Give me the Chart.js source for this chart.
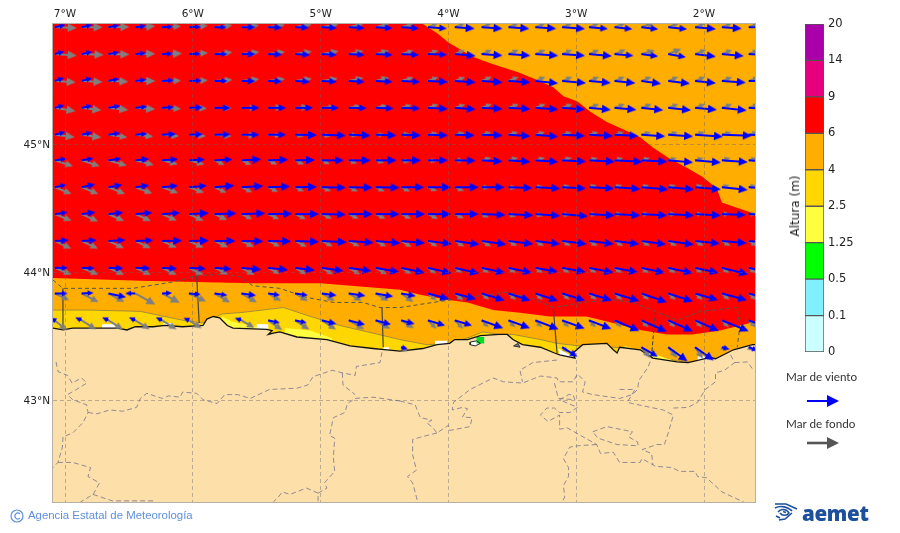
<!DOCTYPE html>
<html lang="es">
<head>
<meta charset="utf-8">
<title>Altura de oleaje</title>
<script src="https://cdn.jsdelivr.net/npm/chart.js@4"></script>
<style>
  html, body { margin: 0; background: #fff; }
  #pagina { position: relative; width: 900px; height: 533px; overflow: hidden; font-family: "DejaVu Sans", sans-serif; }
  canvas { position: absolute; display: block; }
  #mapa { left: 0; top: 0; }
  #barra { left: 800px; top: 0; }
  .txt { position: absolute; white-space: nowrap; }
  #altura { left: 795px; top: 206px; transform: translate(-50%, -50%) rotate(-90deg); font-size: 12px; color: #222; }
  .ley { left: 786px; font-family: Lato, sans-serif; font-size: 11.7px; color: #333; }
  #agencia { left: 28px; top: 509px; font-family: "Liberation Sans", sans-serif; font-size: 11.4px; color: #5f8fdc; }
  #marca { left: 802px; top: 499px; font-family: "Open Sans", sans-serif; font-weight: 800; font-size: 20.5px; letter-spacing: -0.3px; color: #1c4f9c; }
  svg { position: absolute; left: 0; top: 0; }
</style>
</head>
<body>
<div id="pagina">
  <canvas id="mapa" width="900" height="533"></canvas>
  <canvas id="barra" width="100" height="533"></canvas>
  <div class="txt" id="altura">Altura (m)</div>
  <div class="txt ley" style="top:369px">Mar de viento</div>
  <div class="txt ley" style="top:416px">Mar de fondo</div>
  <div class="txt" id="agencia">Agencia Estatal de Meteorología</div>
  <div class="txt" id="marca">aemet</div>
  <svg width="900" height="533" fill="none">
    <path d="M807 401H830" stroke="#0000ff" stroke-width="2"/>
    <path d="M827 395L839 401L827 407Z" fill="#0000ff"/>
    <path d="M807 443H830" stroke="#555" stroke-width="2.6"/>
    <path d="M827 437L839 443L827 449Z" fill="#555"/>
    <circle cx="17" cy="516" r="6" stroke="#5f8fdc" stroke-width="1.2"/>
    <path d="M20 513.8A3 3 0 1 0 20 518.2" stroke="#5f8fdc" stroke-width="1.1"/>
    <g stroke="#1c4f9c" stroke-width="1.6">
      <path d="M775 504L786 504L797 509"/>
      <path d="M775 508C781 505 788 507 792 511"/>
      <path d="M778 512C781 508 787 509 789 513C787 516 782 516 780 513"/>
      <path d="M783 511.5L786 512.5"/>
      <path d="M792 513L785 519L779 520"/>
      <path d="M776 516L780 518"/>
    </g>
  </svg>
</div>

<script>
// ejes del mapa
const lonMin = -7.094, lonMax = -1.601, latMin = 42.211, latMax = 45.945;
const ticksLon = [-7, -6, -5, -4, -3, -2];
const ticksLat = [43, 44, 45];

// barra de color
const etiquetasBarra = ['0', '0.1', '0.5', '1.25', '2.5', '4', '6', '9', '14', '20'];
const coloresBarra = ['#ccffff', '#80f0ff', '#00ff00', '#ffff40', '#ffd700', '#ffae00', '#ff0000', '#e6007e', '#aa00aa'];

// zonas de altura, en [lon, lat]
const zonaMar = [[-7.094, 45.945], [-1.601, 45.945], [-1.601, 43.0], [-7.094, 43.0]];
const zonaRoja = [[-7.094, 45.945], [-4.20, 45.945], [-4.09, 45.875], [-4.00, 45.80], [-3.93, 45.76], [-3.81, 45.69],
  [-3.65, 45.63], [-3.46, 45.57], [-3.31, 45.51], [-3.18, 45.45], [-3.10, 45.38], [-2.99, 45.34], [-2.89, 45.26],
  [-2.76, 45.18], [-2.63, 45.12], [-2.50, 45.06], [-2.40, 44.98], [-2.28, 44.90], [-2.13, 44.82], [-2.01, 44.75],
  [-1.90, 44.66], [-1.86, 44.55], [-1.77, 44.52], [-1.601, 44.46], [-1.601, 43.62], [-1.875, 43.55], [-2.09, 43.52],
  [-2.29, 43.52], [-2.50, 43.555], [-2.71, 43.61], [-2.92, 43.66], [-3.205, 43.66], [-3.44, 43.69], [-3.65, 43.71],
  [-3.85, 43.77], [-4.01, 43.79], [-4.22, 43.83], [-4.38, 43.87], [-5.00, 43.92], [-5.53, 43.92], [-6.41, 43.94],
  [-7.094, 43.96]];
const zonaOro = [[-7.094, 43.71], [-6.80, 43.71], [-6.41, 43.70], [-6.05, 43.625], [-5.92, 43.61], [-5.77, 43.68],
  [-5.63, 43.69], [-5.29, 43.73], [-5.11, 43.67], [-4.85, 43.59], [-4.59, 43.53], [-4.38, 43.48], [-4.17, 43.44],
  [-3.99, 43.45], [-3.83, 43.50], [-3.73, 43.54], [-3.60, 43.52], [-3.495, 43.52], [-3.28, 43.48], [-3.15, 43.45],
  [-2.97, 43.43], [-2.71, 43.42], [-2.50, 43.40], [-2.34, 43.34], [-2.16, 43.305], [-2.03, 43.30], [-2.03, 43.0],
  [-7.094, 43.0]];
const zonaAmarilla1 = [[-5.77, 43.66], [-5.69, 43.62], [-5.55, 43.59], [-5.41, 43.56], [-5.41, 43.5], [-5.77, 43.5]];
const zonaAmarilla2 = [[-5.28, 43.57], [-5.08, 43.55], [-4.91, 43.49], [-4.91, 43.4], [-5.28, 43.4]];
const zonaAmarilla3 = [[-3.815, 43.49], [-3.71, 43.52], [-3.60, 43.51], [-3.60, 43.4], [-3.815, 43.4]];
const zonaAmarilla4 = [[-2.62, 43.43], [-2.42, 43.375], [-2.25, 43.32], [-2.25, 43.25], [-2.62, 43.25]];
const zonasBlancas = [
  [[-6.71, 43.60], [-6.61, 43.60], [-6.61, 43.56], [-6.71, 43.56]],
  [[-6.23, 43.61], [-6.155, 43.61], [-6.155, 43.58], [-6.23, 43.58]],
  [[-5.50, 43.60], [-5.41, 43.60], [-5.41, 43.56], [-5.50, 43.56]],
  [[-4.51, 43.42], [-4.465, 43.42], [-4.465, 43.39], [-4.51, 43.39]],
  [[-4.105, 43.47], [-4.01, 43.47], [-4.01, 43.44], [-4.105, 43.44]],
  [[-3.14, 43.41], [-3.01, 43.335], [-3.13, 43.36]],
  [[-2.05, 43.35], [-1.99, 43.35], [-1.99, 43.31], [-2.05, 43.31]]
];
const zonaVerde = [[-3.78, 43.50], [-3.72, 43.50], [-3.72, 43.45], [-3.78, 43.45]];
const riaOeste = [[-3.83, 43.46], [-3.83, 43.44], [-3.79, 43.43], [-3.75, 43.45], [-3.78, 43.47], [-3.83, 43.46]];
const riaEste = [[-3.455, 43.45], [-3.49, 43.43], [-3.44, 43.42], [-3.455, 43.45]];

// costa y tierra
const costa = [[-7.094, 43.57], [-7.016, 43.555], [-6.94, 43.57], [-6.71, 43.57], [-6.59, 43.57], [-6.515, 43.555],
  [-6.45, 43.58], [-6.31, 43.58], [-6.22, 43.59], [-6.08, 43.58], [-5.92, 43.59], [-5.89, 43.64], [-5.84, 43.66],
  [-5.79, 43.65], [-5.73, 43.59], [-5.685, 43.57], [-5.42, 43.56], [-5.38, 43.55], [-5.41, 43.52], [-5.37, 43.53],
  [-5.32, 43.54], [-5.185, 43.50], [-4.95, 43.48], [-4.77, 43.43], [-4.59, 43.41], [-4.48, 43.40], [-4.38, 43.39],
  [-4.20, 43.41], [-4.09, 43.44], [-3.99, 43.45], [-3.95, 43.48], [-3.85, 43.48], [-3.75, 43.51], [-3.60, 43.52],
  [-3.54, 43.52], [-3.495, 43.48], [-3.42, 43.44], [-3.28, 43.42], [-3.17, 43.375], [-3.13, 43.36], [-3.01, 43.335],
  [-3.025, 43.375], [-2.95, 43.44], [-2.76, 43.45], [-2.71, 43.40], [-2.68, 43.375], [-2.66, 43.42], [-2.50, 43.40],
  [-2.40, 43.335], [-2.21, 43.305], [-2.125, 43.30], [-1.95, 43.34], [-1.91, 43.33], [-1.77, 43.40], [-1.62, 43.44],
  [-1.601, 43.44]];
const esquinasTierra = [[-1.601, 42.211], [-7.094, 42.211]];

// limites maritimos
const limiteMar = [[-7.094, 43.945], [-7.016, 43.88], [-6.47, 43.88], [-6.155, 43.93], [-5.97, 43.98], [-5.73, 43.99],
  [-5.63, 43.97], [-5.53, 43.90], [-5.32, 43.88], [-5.11, 43.81], [-4.90, 43.77], [-4.67, 43.77], [-4.535, 43.73],
  [-4.38, 43.73], [-4.12, 43.77], [-3.85, 43.81], [-3.54, 43.85], [-3.34, 43.80], [-3.18, 43.73], [-2.95, 43.77],
  [-2.71, 43.79], [-2.56, 43.77], [-2.38, 43.70], [-2.21, 43.63], [-2.03, 43.70], [-1.74, 43.73], [-1.72, 43.58],
  [-1.74, 43.42]];
const separadoresMar = [
  [[-7.016, 43.88], [-7.016, 43.57]],
  [[-5.97, 43.98], [-5.95, 43.61]],
  [[-4.52, 43.73], [-4.51, 43.42]],
  [[-3.18, 43.73], [-3.15, 43.375]]
];
const separadorDiscontinuo = [[-2.38, 43.70], [-2.41, 43.36]];

// limites de provincias
const limitesTierra = [
  [[-7.07, 43.305], [-7.055, 43.23], [-6.98, 43.20], [-6.945, 43.14], [-6.87, 43.18], [-6.83, 43.14], [-6.91, 43.09],
    [-6.98, 43.05], [-6.94, 43.01], [-6.83, 42.97], [-6.82, 42.91], [-6.86, 42.83], [-6.94, 42.75], [-7.016, 42.72],
    [-7.02, 42.64], [-7.055, 42.52], [-7.094, 42.48]],
  [[-7.055, 42.52], [-6.94, 42.52], [-6.80, 42.48], [-6.82, 42.41], [-6.73, 42.36], [-6.78, 42.27], [-6.88, 42.211]],
  [[-6.78, 42.27], [-6.63, 42.22], [-6.31, 42.22]],
  [[-6.82, 42.91], [-6.75, 42.90], [-6.65, 42.93], [-6.55, 42.92], [-6.44, 42.95], [-6.41, 43.02], [-6.36, 43.06],
    [-6.24, 43.02], [-6.19, 43.04], [-6.10, 43.03], [-6.08, 43.07], [-5.97, 43.06], [-5.92, 43.01], [-5.81, 42.98],
    [-5.75, 43.05], [-5.65, 43.05], [-5.55, 43.02], [-5.40, 43.09], [-5.185, 43.10], [-5.10, 43.125], [-5.06, 43.19],
    [-4.91, 43.24], [-4.83, 43.22], [-4.73, 43.20], [-4.72, 43.27], [-4.535, 43.30], [-4.52, 43.38]],
  [[-4.83, 43.22], [-4.825, 43.125], [-4.73, 43.05]],
  [[-4.38, 43.0], [-4.59, 43.03], [-4.73, 43.02], [-4.79, 42.98], [-4.81, 42.91], [-4.90, 42.87], [-4.93, 42.73],
    [-4.89, 42.71], [-4.90, 42.56], [-4.89, 42.45], [-4.97, 42.36], [-4.95, 42.32], [-5.02, 42.28], [-5.02, 42.211]],
  [[-5.02, 42.28], [-5.11, 42.32], [-5.24, 42.27], [-5.30, 42.29], [-5.33, 42.25], [-5.37, 42.211]],
  [[-4.38, 43.0], [-4.26, 42.97], [-4.22, 42.87], [-4.13, 42.85], [-4.17, 42.83], [-4.12, 42.79], [-4.09, 42.75],
    [-4.00, 42.81], [-3.99, 42.77], [-3.83, 42.80], [-3.815, 42.87], [-3.89, 42.875], [-3.85, 42.94], [-3.89, 42.95],
    [-3.97, 42.93], [-3.96, 42.99], [-3.83, 43.09], [-3.65, 43.18], [-3.57, 43.15], [-3.42, 43.14], [-3.28, 43.195],
    [-3.15, 43.18], [-3.14, 43.15], [-3.025, 43.15], [-2.99, 43.21], [-2.93, 43.15], [-2.95, 43.07], [-2.87, 43.05],
    [-2.66, 43.02], [-2.56, 43.05], [-2.52, 43.09], [-2.51, 43.16], [-2.44, 43.26], [-2.41, 43.335]],
  [[-4.09, 42.75], [-4.21, 42.72], [-4.28, 42.70], [-4.28, 42.58], [-4.25, 42.46], [-4.32, 42.41], [-4.28, 42.36],
    [-4.24, 42.211]],
  [[-3.15, 43.32], [-3.34, 43.30], [-3.44, 43.24], [-3.42, 43.15]],
  [[-3.17, 43.14], [-3.14, 43.02], [-3.01, 43.01], [-3.025, 43.05], [-3.06, 43.05], [-3.13, 43.01], [-2.99, 42.95],
    [-3.05, 42.91], [-3.13, 42.91], [-3.17, 42.945], [-3.23, 42.945], [-3.28, 42.89], [-3.22, 42.84], [-3.13, 42.89],
    [-3.13, 42.78], [-3.07, 42.79], [-2.84, 42.66], [-2.81, 42.59], [-2.71, 42.60], [-2.66, 42.52], [-2.50, 42.52],
    [-2.485, 42.55], [-2.38, 42.49], [-2.25, 42.48], [-2.19, 42.45], [-2.07, 42.45], [-2.05, 42.41], [-1.98, 42.40],
    [-1.86, 42.29], [-1.69, 42.211]],
  [[-2.84, 42.66], [-2.99, 42.65], [-3.05, 42.64], [-3.10, 42.55], [-3.06, 42.48], [-3.06, 42.41], [-3.10, 42.34],
    [-3.09, 42.25], [-3.11, 42.211]],
  [[-2.87, 42.76], [-2.76, 42.80], [-2.56, 42.76], [-2.59, 42.72], [-2.52, 42.68], [-2.515, 42.65], [-2.68, 42.66],
    [-2.83, 42.71], [-2.87, 42.76]],
  [[-2.66, 43.09], [-2.54, 43.09], [-2.60, 42.99], [-2.56, 42.98], [-2.32, 42.93], [-2.24, 42.89], [-2.28, 42.75],
    [-2.31, 42.66], [-2.37, 42.66], [-2.485, 42.62], [-2.41, 42.59], [-2.40, 42.50]],
  [[-2.24, 42.945], [-2.125, 42.95], [-2.05, 42.99], [-1.99, 43.09], [-1.91, 43.15], [-1.91, 43.22], [-1.84, 43.24],
    [-1.76, 43.30], [-1.80, 43.375]],
  [[-1.76, 43.30], [-1.66, 43.305], [-1.62, 43.25], [-1.601, 43.25]]
];

// rejilla de flechas
const lonRejilla = [-7.08, -6.87, -6.66, -6.45, -6.24, -6.03, -5.83, -5.62, -5.41, -5.20, -4.99, -4.78, -4.57, -4.37,
  -4.16, -3.95, -3.74, -3.53, -3.32, -3.11, -2.90, -2.70, -2.49, -2.28, -2.07, -1.86, -1.65];
const latRejilla = [45.92, 45.71, 45.50, 45.29, 45.08, 44.88, 44.67, 44.46, 44.25, 44.04, 43.84, 43.63, 43.42];

// mar de viento: modulo y angulo (grados, horario desde el este)
const vientoMod = [
  [11,11,11,11,11,12,12,14,14,14,15,16,17,18,19,20,21,21,21,23,19,18,17,19,21,20,20],
  [10,11,11,11,11,12,13,14,14,15,15,16,17,18,19,21,21,22,23,23,23,19,17,18,21,22,21],
  [10,11,11,11,12,13,13,14,14,15,15,16,17,19,20,21,21,22,23,24,22,21,20,22,21,24,20],
  [10,11,12,12,12,14,16,18,18,18,17,18,18,19,20,21,21,22,23,23,22,22,22,23,22,25,20],
  [11,11,12,12,14,14,16,18,18,22,24,22,21,20,20,20,21,22,23,23,24,24,24,25,28,30,20],
  [12,12,13,14,16,16,18,20,20,20,22,22,21,20,20,21,21,22,23,24,26,28,26,25,26,26,20],
  [12,14,14,14,16,18,20,22,22,22,24,24,24,23,23,24,23,24,25,24,25,26,27,26,26,26,20],
  [13,14,15,17,18,20,22,24,24,24,24,24,24,24,23,24,24,25,25,26,26,26,26,26,26,24,20],
  [14,15,17,18,20,20,21,22,23,24,25,25,25,24,24,25,25,25,25,25,25,25,25,26,25,25,20],
  [13,13,15,15,15,17,17,20,20,20,22,23,24,24,24,25,24,24,23,24,25,24,24,25,24,27,20],
  [13,12,18,10,10,12,13,15,12,13,15,17,18,15,22,22,24,23,24,24,24,26,27,26,24,26,20],
  [5,7,7,7,7,6,null,7,12,12,15,17,16,14,18,18,23,23,25,24,24,27,28,27,26,29,15],
  [null,null,null,null,null,null,null,null,null,null,null,null,null,7,null,null,null,null,null,18,null,null,19,24,23,8,10]
];
const vientoAng = [
  [-12,-12,-10,-6,-3,-2,0,0,2,2,3,3,4,4,4,4,4,4,4,4,5,6,7,6,5,4,0],
  [-15,-12,-10,-5,-3,-2,0,0,2,3,3,3,3,3,2,5,4,4,4,4,5,5,8,10,7,5,3],
  [-18,-15,-12,-6,-3,-2,0,1,2,3,3,3,3,3,3,4,4,4,6,5,5,6,8,7,6,4,0],
  [-15,-12,-10,-6,-3,-2,0,0,0,0,0,1,2,2,3,4,3,3,4,4,5,5,6,6,5,6,3],
  [-15,-12,-8,-5,-3,-2,-1,0,0,1,2,2,2,2,2,2,2,4,5,3,3,3,4,4,4,2,2],
  [-8,-10,-8,-6,-4,-3,-3,-3,-2,-1,0,0,0,0,0,1,3,4,4,3,3,3,3,5,5,4,4],
  [-12,-12,-10,-8,-6,-5,-5,-3,-2,-1,1,1,1,0,0,0,0,2,3,3,3,4,5,5,5,6,4],
  [-8,-8,-6,-5,-4,-3,-2,-2,-1,0,1,0,0,0,0,0,2,3,4,5,3,3,3,3,3,2,2],
  [-3,-3,-3,-2,-1,-1,0,1,1,2,3,4,5,5,7,8,8,7,7,7,7,7,8,8,6,5,5],
  [0,2,2,2,3,3,4,5,6,7,8,8,10,12,13,13,12,12,10,10,11,11,12,12,12,14,12],
  [0,-3,12,180,-3,5,8,8,8,8,8,8,10,10,15,15,17,18,18,17,17,17,19,18,16,15,15],
  [-150,-155,-155,-155,-155,-155,null,-160,12,12,14,15,15,15,17,17,20,20,21,20,21,23,24,24,24,22,20],
  [null,null,null,null,null,null,null,null,null,null,null,null,null,15,null,null,null,null,null,32,null,null,30,36,35,15,20]
];

// mar de fondo: modulo y angulo
const fondoMod = [
  [22,21,21,20,19,19,18,18,17,17,17,15,14,13,11,11,11,11,11,11,11,12,14,12,11,11,11],
  [22,22,21,20,20,19,18,18,17,17,17,15,14,13,11,11,11,11,11,11,11,12,14,14,12,11,11],
  [21,21,20,20,19,19,18,18,17,17,16,15,14,13,11,11,11,11,11,11,11,11,11,11,11,11,11],
  [21,20,20,20,19,18,17,16,15,14,13,12,12,11,11,11,11,11,11,11,11,11,11,11,11,11,11],
  [20,20,19,18,17,17,17,15,13,9,9,9,9,9,10,10,10,10,10,10,10,10,10,10,10,10,10],
  [19,19,19,19,16,16,11,11,10,10,9,9,9,9,9,9,10,10,10,10,9,9,9,9,9,9,9],
  [18,18,18,18,17,16,13,12,11,10,10,10,10,10,10,10,8,8,8,8,8,8,8,8,8,8,8],
  [18,18,17,17,16,16,14,12,12,12,11,11,11,11,11,10,8,8,8,8,8,8,8,8,8,8,8],
  [18,18,17,17,16,16,15,14,13,13,12,12,12,12,11,11,11,10,10,10,10,10,10,10,10,10,10],
  [18,18,17,17,16,16,15,15,13,13,13,13,13,12,10,9,9,9,9,9,9,9,9,9,9,9,9],
  [16,19,18,23,20,19,18,18,15,15,15,15,15,15,11,11,10,10,10,10,10,10,10,10,10,10,10],
  [16,17,17,17,17,15,null,15,17,17,17,18,17,15,12,12,10,10,10,10,10,10,10,10,10,10,10],
  [null,null,null,null,null,null,null,null,null,null,null,null,null,8,null,null,null,null,null,8,null,null,14,14,14,6,6]
];
const fondoAng = [
  [2,0,-1,-3,-3,-5,-6,-6,-8,-10,-10,-12,-14,-16,-22,-22,-22,-22,-22,-22,-22,-22,-20,-22,-22,-22,-22],
  [4,2,1,-1,-2,-4,-6,-7,-8,-9,-10,-12,-14,-16,-20,-22,-22,-22,-22,-22,-22,-22,-15,-22,-22,-22,-22],
  [4,3,2,0,-1,-2,-4,-6,-7,-8,-9,-12,-14,-16,-20,-20,-22,-22,-22,-22,-22,-22,-22,-22,-22,-20,-20],
  [9,7,6,4,3,2,1,0,-2,-4,-6,-10,-12,-15,-18,-18,-20,-20,-20,-20,-20,-20,-20,-20,-20,-20,-20],
  [7,8,8,6,5,5,5,5,5,10,10,5,0,-5,-10,-12,-15,-15,-15,-15,-15,-15,-15,-15,-15,-15,-15],
  [18,18,16,14,14,15,25,25,25,25,25,20,15,10,5,0,-15,-15,-15,-15,-15,-15,-15,-15,-15,-15,-15],
  [22,22,22,20,20,20,25,25,25,25,25,25,25,25,22,22,5,5,-5,-10,-15,-15,-15,-15,-15,-15,-15],
  [22,24,24,24,24,25,25,25,25,25,25,25,25,25,25,25,25,20,15,10,5,0,0,0,0,0,0],
  [25,25,25,25,25,25,25,25,25,27,27,27,27,30,30,30,30,30,30,30,30,30,30,30,30,30,30],
  [22,22,24,24,26,26,26,28,28,30,30,30,30,30,35,35,35,35,35,35,35,35,35,35,35,35,35],
  [25,27,28,29,28,25,30,30,30,30,30,30,30,35,40,40,40,40,40,40,40,40,40,40,40,40,40],
  [40,32,32,32,32,32,null,30,35,33,33,30,30,32,45,45,45,45,45,45,45,45,45,45,45,45,45],
  [null,null,null,null,null,null,null,null,null,null,null,null,null,35,null,null,null,null,null,40,null,null,50,50,55,40,40]
];

Chart.defaults.font.family = '"DejaVu Sans", sans-serif';
Chart.defaults.animation = false;

const pares = pts => pts.map(p => ({ x: p[0], y: p[1] }));

function poligono(pts, color, order, borde) {
  return {
    data: pares(pts), showLine: true, fill: 'shape', backgroundColor: color,
    borderColor: borde || color, borderWidth: borde ? 1 : 0, pointRadius: 0, tension: 0, order
  };
}

function linea(pts, color, order, ancho, dash) {
  return {
    data: pares(pts), showLine: true, fill: false, borderColor: color,
    borderWidth: ancho, borderDash: dash || [], pointRadius: 0, tension: 0, order
  };
}

// las flechas son puntos con un canvas como pointStyle, centrado en la cola
const cacheFlechas = {};
function flecha(mod, color) {
  const clave = color + mod;
  if (cacheFlechas[clave]) return cacheFlechas[clave];
  const c = document.createElement('canvas');
  c.width = 2 * (mod + 4);
  c.height = 16;
  const g = c.getContext('2d');
  const cabeza = mod < 14 ? 6 : mod < 20 ? 7.5 : 9;
  const media = mod < 14 ? 2.8 : mod < 20 ? 3.5 : 4.2;
  g.translate(c.width / 2, c.height / 2);
  g.strokeStyle = color;
  g.fillStyle = color;
  g.lineWidth = 2;
  g.beginPath();
  g.moveTo(0, 0);
  g.lineTo(mod - cabeza + 1, 0);
  g.stroke();
  g.beginPath();
  g.moveTo(mod, 0);
  g.lineTo(mod - cabeza, -media);
  g.lineTo(mod - cabeza, media);
  g.closePath();
  g.fill();
  cacheFlechas[clave] = c;
  return c;
}

function puntosFlecha(mods, angs) {
  const salida = [];
  mods.forEach((fila, f) => fila.forEach((m, c) => {
    if (m !== null) salida.push({ x: lonRejilla[c], y: latRejilla[f], mod: m, ang: angs[f][c] });
  }));
  return salida;
}

function capaFlechas(mods, angs, color, order) {
  return {
    data: puntosFlecha(mods, angs), showLine: false, pointRadius: 3, order,
    pointStyle: c => flecha(c.raw.mod, color),
    pointRotation: c => c.raw.ang
  };
}

const colorLimite = 'rgba(112,110,140,0.75)';
const datasets = [
  capaFlechas(vientoMod, vientoAng, '#0000ff', 1),
  capaFlechas(fondoMod, fondoAng, '#7f7f7f', 2),
  linea(limiteMar, '#555', 3, 1, [4, 3]),
  linea(separadorDiscontinuo, '#444', 3, 1.1, [4, 2]),
  ...separadoresMar.map(s => linea(s, '#444', 3, 1.2)),
  ...limitesTierra.map(l => linea(l, colorLimite, 4, 1, [5, 3])),
  linea(costa, '#111', 5, 1.3),
  linea(riaOeste, '#222', 6, 1),
  linea(riaEste, '#333', 6, 1),
  poligono(zonaVerde, '#00e020', 7),
  poligono(riaOeste, '#ffffff', 8),
  poligono(riaEste, '#777777', 8),
  poligono([...costa, ...esquinasTierra], '#fddfa9', 10),
  ...zonasBlancas.map(z => poligono(z, '#ffffff', 11)),
  poligono(zonaAmarilla1, '#ffff40', 12),
  poligono(zonaAmarilla2, '#ffff40', 12),
  poligono(zonaAmarilla3, '#ffff40', 12),
  poligono(zonaAmarilla4, '#ffff40', 12),
  poligono(zonaOro, '#ffd700', 13, 'rgba(130,120,80,0.7)'),
  poligono(zonaRoja, '#ff0000', 14),
  poligono(zonaMar, '#ffae00', 15)
];

const marco = {
  id: 'marco',
  afterDraw(chart) {
    const a = chart.chartArea, g = chart.ctx;
    g.save();
    g.strokeStyle = '#b5b0a8';
    g.lineWidth = 1;
    g.strokeRect(a.left - 0.5, a.top - 0.5, a.width + 1, a.height + 1);
    g.restore();
  }
};

const gridMapa = { z: 1, color: 'rgba(100,100,110,0.42)', drawTicks: false, lineWidth: 1 };

new Chart(document.getElementById('mapa'), {
  type: 'scatter',
  data: { datasets },
  plugins: [marco],
  options: {
    responsive: false,
    devicePixelRatio: 1,
    layout: { padding: { left: 0, top: 0, right: 145, bottom: 31 } },
    plugins: { legend: { display: false }, tooltip: { enabled: false } },
    events: [],
    scales: {
      x: {
        type: 'linear', position: 'top', min: lonMin, max: lonMax,
        afterBuildTicks: s => { s.ticks = ticksLon.map(v => ({ value: v })); },
        afterFit: s => { s.height = 24; },
        grid: gridMapa,
        border: { display: false, dash: [4, 3] },
        ticks: { autoSkip: false, maxRotation: 0, padding: 3, color: '#222', font: { size: 10.5 }, callback: v => Math.abs(v) + '°W' }
      },
      y: {
        type: 'linear', position: 'left', min: latMin, max: latMax,
        afterBuildTicks: s => { s.ticks = ticksLat.map(v => ({ value: v })); },
        afterFit: s => { s.width = 53; },
        grid: gridMapa,
        border: { display: false, dash: [4, 3] },
        ticks: { autoSkip: false, padding: 3, color: '#222', font: { size: 10.5 }, callback: v => v + '°N' }
      }
    }
  }
});

new Chart(document.getElementById('barra'), {
  type: 'bar',
  data: {
    labels: [''],
    datasets: coloresBarra.map(c => ({
      data: [1], backgroundColor: c, borderColor: '#555', borderWidth: 1, borderSkipped: false,
      categoryPercentage: 1, barPercentage: 1, stack: 'b'
    }))
  },
  options: {
    responsive: false,
    devicePixelRatio: 1,
    layout: { padding: { left: 5, top: 24, right: 0, bottom: 181 } },
    plugins: { legend: { display: false }, tooltip: { enabled: false } },
    events: [],
    scales: {
      x: { display: false, stacked: true },
      y: {
        position: 'right', stacked: true, min: 0, max: 9,
        afterFit: s => { s.width = 76; },
        grid: { display: false, drawTicks: false },
        border: { display: false },
        ticks: { stepSize: 1, padding: 4, color: '#222', font: { size: 11.5 }, callback: v => etiquetasBarra[v] }
      }
    }
  }
});
</script>
</body>
</html>
